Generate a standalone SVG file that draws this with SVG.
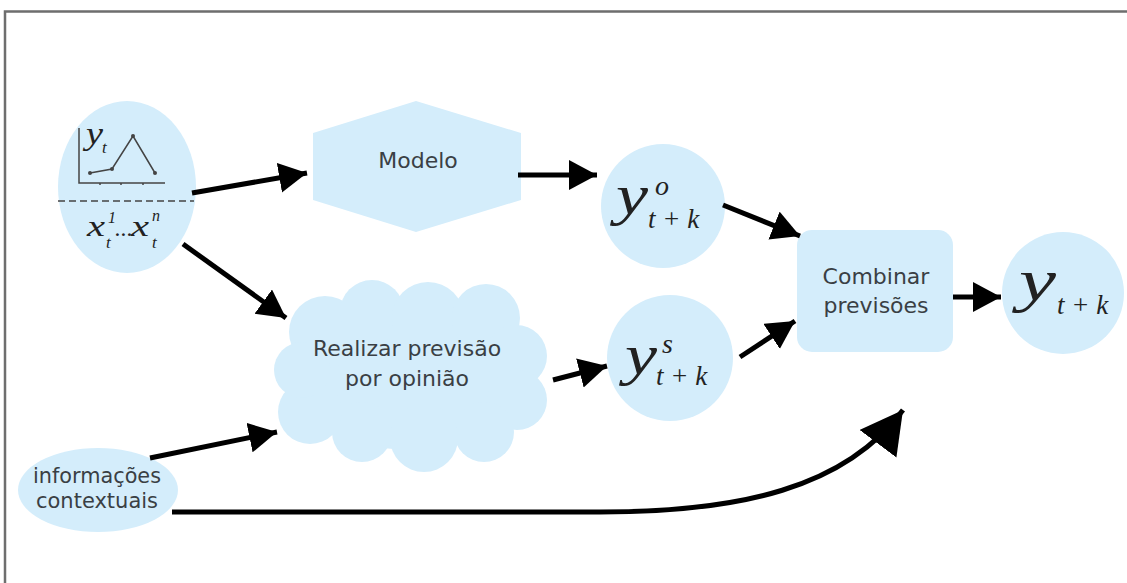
<svg xmlns="http://www.w3.org/2000/svg" width="1127" height="583" viewBox="0 0 1127 583">
  <style>
    .node { fill: #d4edfb; }
    .lbl { font-family: "DejaVu Sans", "Liberation Sans", sans-serif; font-size: 22px; fill: #3a3f44; text-anchor: middle; }
    .math { font-family: "Liberation Serif", "DejaVu Serif", serif; font-style: italic; fill: #222; }
    .conn { stroke: #000; stroke-width: 5; fill: none; }
  </style>
  <defs>
    <marker id="head" markerUnits="userSpaceOnUse" markerWidth="32" markerHeight="32" refX="28" refY="15" orient="auto">
      <path d="M0,0 L28,15 L0,30 z" fill="#000"/>
    </marker>
    <marker id="headBig" markerUnits="userSpaceOnUse" markerWidth="48" markerHeight="48" refX="42" refY="23" orient="auto">
      <path d="M0,0 L42,23 L0,46 z" fill="#000"/>
    </marker>
  </defs>

  <rect width="1127" height="583" fill="#fff"/>
  <path d="M5,583 V11.5 H1127" fill="none" stroke="#6e6e6e" stroke-width="2.5"/>

  <!-- historical data: series y_t and explanatory variables -->
  <g id="dados">
    <ellipse class="node" cx="127" cy="187" rx="69" ry="86"/>
    <path d="M79,128 V183 H165 M100,183 v2 M121,183 v2 M143,183 v2" fill="none" stroke="#444" stroke-width="1.5"/>
    <polyline points="90,173 112,169 133,136 155,173" fill="none" stroke="#444" stroke-width="1.5"/>
    <g fill="#444">
      <circle cx="90" cy="173" r="2"/><circle cx="112" cy="169" r="2"/>
      <circle cx="133" cy="136" r="2"/><circle cx="155" cy="173" r="2"/>
    </g>
    <text class="math" x="86" y="144" font-size="32" textLength="17" lengthAdjust="spacingAndGlyphs">y</text>
    <text class="math" x="102" y="153" font-size="17">t</text>
    <line x1="58" y1="201" x2="194" y2="201" stroke="#444" stroke-width="1.5" stroke-dasharray="7,4"/>
    <text class="math" x="87" y="236" font-size="30" textLength="18" lengthAdjust="spacingAndGlyphs">x</text>
    <text class="math" x="108" y="223" font-size="16">1</text>
    <text class="math" x="106" y="248" font-size="17">t</text>
    <text class="math" x="115" y="236" font-size="24">...</text>
    <text class="math" x="131" y="236" font-size="30" textLength="18" lengthAdjust="spacingAndGlyphs">x</text>
    <text class="math" x="152" y="221" font-size="16">n</text>
    <text class="math" x="152" y="248" font-size="17">t</text>
  </g>

  <g id="modelo">
    <polygon class="node" points="416,101 521,133 521,200 416,232 313,200 313,133"/>
    <text class="lbl" x="418" y="168">Modelo</text>
  </g>

  <g id="opiniao">
    <g class="node">
      <ellipse cx="411" cy="378" rx="118" ry="72"/>
      <circle cx="325" cy="332" r="36"/>
      <circle cx="372" cy="312" r="32"/>
      <circle cx="428" cy="318" r="36"/>
      <circle cx="486" cy="318" r="34"/>
      <circle cx="516" cy="356" r="31"/>
      <circle cx="517" cy="400" r="30"/>
      <circle cx="484" cy="432" r="30"/>
      <circle cx="424" cy="438" r="34"/>
      <circle cx="362" cy="432" r="30"/>
      <circle cx="310" cy="412" r="32"/>
      <circle cx="302" cy="370" r="28"/>
    </g>
    <text class="lbl" x="407" y="356">Realizar previsão</text>
    <text class="lbl" x="407" y="386">por opinião</text>
  </g>

  <g id="prev-modelo">
    <circle class="node" cx="663" cy="206" r="62"/>
    <text class="math" x="616" y="214" font-size="56" textLength="32" lengthAdjust="spacingAndGlyphs">y</text>
    <text class="math" x="655" y="195" font-size="28">o</text>
    <text class="math" x="648" y="228" font-size="27">t + k</text>
  </g>

  <g id="prev-opiniao">
    <circle class="node" cx="670" cy="358" r="63"/>
    <text class="math" x="625" y="374" font-size="56" textLength="32" lengthAdjust="spacingAndGlyphs">y</text>
    <text class="math" x="662" y="353" font-size="28">s</text>
    <text class="math" x="656" y="385" font-size="27">t + k</text>
  </g>

  <g id="combinar">
    <rect class="node" x="797" y="230" width="156" height="122" rx="15"/>
    <text class="lbl" x="876" y="284">Combinar</text>
    <text class="lbl" x="876" y="313">previsões</text>
  </g>

  <g id="previsao-final">
    <circle class="node" cx="1063" cy="293" r="61"/>
    <text class="math" x="1019" y="300" font-size="60" textLength="37" lengthAdjust="spacingAndGlyphs">y</text>
    <text class="math" x="1057" y="314" font-size="27">t + k</text>
  </g>

  <g id="contexto">
    <ellipse class="node" cx="98" cy="490" rx="80" ry="42"/>
    <text class="lbl" x="97" y="483" font-size="19" textLength="128" lengthAdjust="spacingAndGlyphs">informações</text>
    <text class="lbl" x="97" y="508" font-size="19" textLength="122" lengthAdjust="spacingAndGlyphs">contextuais</text>
  </g>

  <g id="connectors">
    <line class="conn" x1="192" y1="193" x2="307" y2="173" marker-end="url(#head)"/>
    <line class="conn" x1="183" y1="244" x2="286" y2="318" marker-end="url(#head)"/>
    <line class="conn" x1="518" y1="175" x2="597" y2="175" marker-end="url(#head)"/>
    <line class="conn" x1="723" y1="205" x2="800" y2="236" marker-end="url(#head)"/>
    <line class="conn" x1="553" y1="380" x2="607" y2="366" marker-end="url(#head)"/>
    <line class="conn" x1="740" y1="357" x2="795" y2="321" marker-end="url(#head)"/>
    <line class="conn" x1="953" y1="297" x2="1001" y2="297" marker-end="url(#head)"/>
    <line class="conn" x1="150" y1="458" x2="277" y2="432" marker-end="url(#head)"/>
    <path class="conn" d="M172,512 L600,512 C740,512 845,488 903,410" stroke-width="7" marker-end="url(#headBig)"/>
  </g>
</svg>
